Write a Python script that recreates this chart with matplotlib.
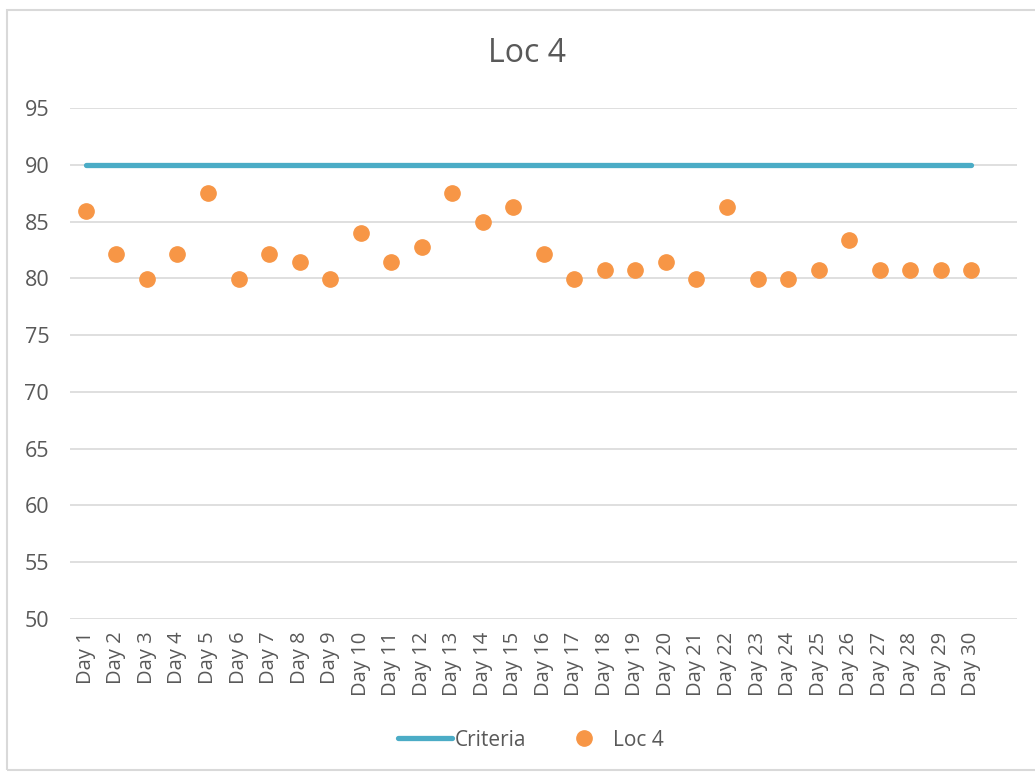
import matplotlib.pyplot as plt
from matplotlib.patches import Rectangle

plt.rcParams['font.family'] = ['Open Sans', 'DejaVu Sans']

days = ['Day ' + str(i) for i in range(1, 31)]
criteria = [90] * 30
loc4 = [85.9, 82.1, 79.9, 82.1, 87.5, 79.9, 82.1, 81.4, 79.9, 84.0,
        81.4, 82.8, 87.5, 85.0, 86.3, 82.1, 79.9, 80.7, 80.7, 81.4,
        79.9, 86.3, 79.9, 79.9, 80.7, 83.4, 80.7, 80.7, 80.7, 80.7]

txt = '#595959'
fig = plt.figure(figsize=(10.35, 7.73), dpi=100)
ax = fig.add_axes([70/1035, 1-619/773, (1017-70)/1035, (619-108)/773])

x = range(len(days))
ax.plot(x, criteria, color='#4BACC6', lw=3.8, solid_capstyle='round', label='Criteria', zorder=3)
ax.plot(x, loc4, 'o', color='#F79646', ms=11, label='Loc 4', zorder=4)

ax.set_xlim(-0.52, 30.5)
ax.set_ylim(50, 95)
ax.set_yticks(range(50, 96, 5))
ax.set_xticks(list(x))
ax.set_xticklabels(days, rotation=90)
ax.tick_params(axis='both', length=0, labelcolor=txt)
ax.tick_params(axis='y', pad=15, labelsize=15.5)
ax.tick_params(axis='x', pad=9, labelsize=14.5)
ax.grid(axis='y', color='#D9D9D9', lw=1.2)
ax.set_axisbelow(True)
for s in ax.spines.values():
    s.set_visible(False)

fig.text(527/1035, 1-53/773, 'Loc 4', ha='center', va='center', fontsize=23, color=txt)

leg = fig.legend(loc='center', bbox_to_anchor=(531/1035, 1-740/773), ncol=2, frameon=False,
                 fontsize=15, labelcolor=txt, handlelength=2.6, handletextpad=0.1, columnspacing=1.5)

fig.patches.append(Rectangle((7/1035, 3/773), 1.1, 1-13/773, transform=fig.transFigure,
                             fill=False, edgecolor='#D9D9D9', lw=1.5))

fig.savefig('out.png', dpi=100)
